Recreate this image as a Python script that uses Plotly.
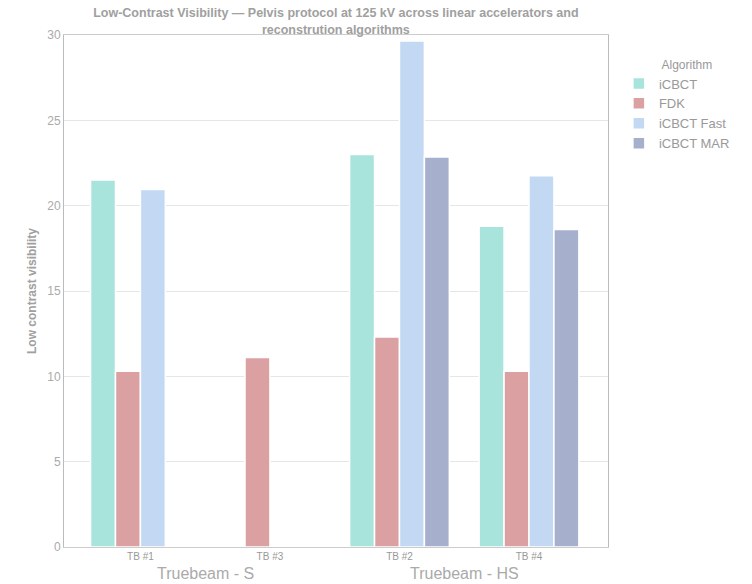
import plotly.graph_objects as go

groups = ["Truebeam - S", "Truebeam - S", "Truebeam - HS", "Truebeam - HS"]
machines = ["TB #1", "TB #3", "TB #2", "TB #4"]
algorithms = ["iCBCT", "FDK", "iCBCT Fast", "iCBCT MAR"]
values = {
    "iCBCT": [21.5, None, 23.0, 18.8],
    "FDK": [10.3, 11.1, 12.3, 10.3],
    "iCBCT Fast": [20.95, None, 29.65, 21.75],
    "iCBCT MAR": [None, None, 22.85, 18.6],
}
colors = {
    "iCBCT": "#a8e4dc",
    "FDK": "#dba1a2",
    "iCBCT Fast": "#c3d8f3",
    "iCBCT MAR": "#a6b0cc",
}
y_ticks = [0, 5, 10, 15, 20, 25, 30]

FONT = "Liberation Sans, Arial, sans-serif"

fig = go.Figure()
for a in algorithms:
    fig.add_trace(go.Bar(
        x=machines, y=values[a], name=a,
        marker=dict(color=colors[a], line=dict(color="white", width=1.5)),
    ))

# group labels under the machine ticks
group_names = []
for g in groups:
    if g not in group_names:
        group_names.append(g)
for g in group_names:
    idx = [i for i, gg in enumerate(groups) if gg == g]
    fig.add_annotation(
        x=sum(idx) / len(idx), y=-0.032, xref="x", yref="paper",
        text=g, showarrow=False, yanchor="top",
        font=dict(size=16, color="#aaaaaa", family=FONT),
    )

fig.update_layout(
    width=752, height=584,
    paper_bgcolor="white", plot_bgcolor="white",
    margin=dict(l=56, r=152, t=27, b=45, autoexpand=False),
    barmode="group", bargap=0.23, bargroupgap=0.0,
    font=dict(family=FONT, color="#999999"),
    title=dict(
        text="<b>Low-Contrast Visibility — Pelvis protocol at 125 kV across linear accelerators and<br>reconstrution algorithms</b>",
        x=0.436, xref="container", xanchor="center", y=0.984, yanchor="top",
        font=dict(size=12.5, color="#a0a0a0"),
    ),
    legend=dict(
        title=dict(text="&nbsp;&nbsp;&nbsp;&nbsp;&nbsp;&nbsp;Algorithm",
                   font=dict(size=12, color="#999999"), side="top center"),
        x=1.02, y=0.965, xanchor="left", yanchor="top",
        font=dict(size=13, color="#999999"),
        itemwidth=30, tracegroupgap=0,
    ),
    showlegend=True,
)
fig.update_xaxes(
    type="category", categoryorder="array", categoryarray=machines,
    range=[-0.59, 3.61],
    showline=True, linecolor="#cccccc", linewidth=1, mirror=True,
    ticks="", tickfont=dict(size=10, color="#999999"),
    showgrid=False, automargin=False,
)
fig.update_yaxes(
    range=[0, 30], tickvals=y_ticks,
    title=dict(text="<b>Low contrast visibility</b>", font=dict(size=12, color="#a0a0a0"), standoff=8),
    showline=True, linecolor="#bbbbbb", linewidth=1, mirror=True,
    gridcolor="#e6e6e6", gridwidth=1, zeroline=False,
    tickfont=dict(size=12, color="#aaaaaa"),
    ticks="", ticklen=0, automargin=False,
)

fig.write_html("out.html")
